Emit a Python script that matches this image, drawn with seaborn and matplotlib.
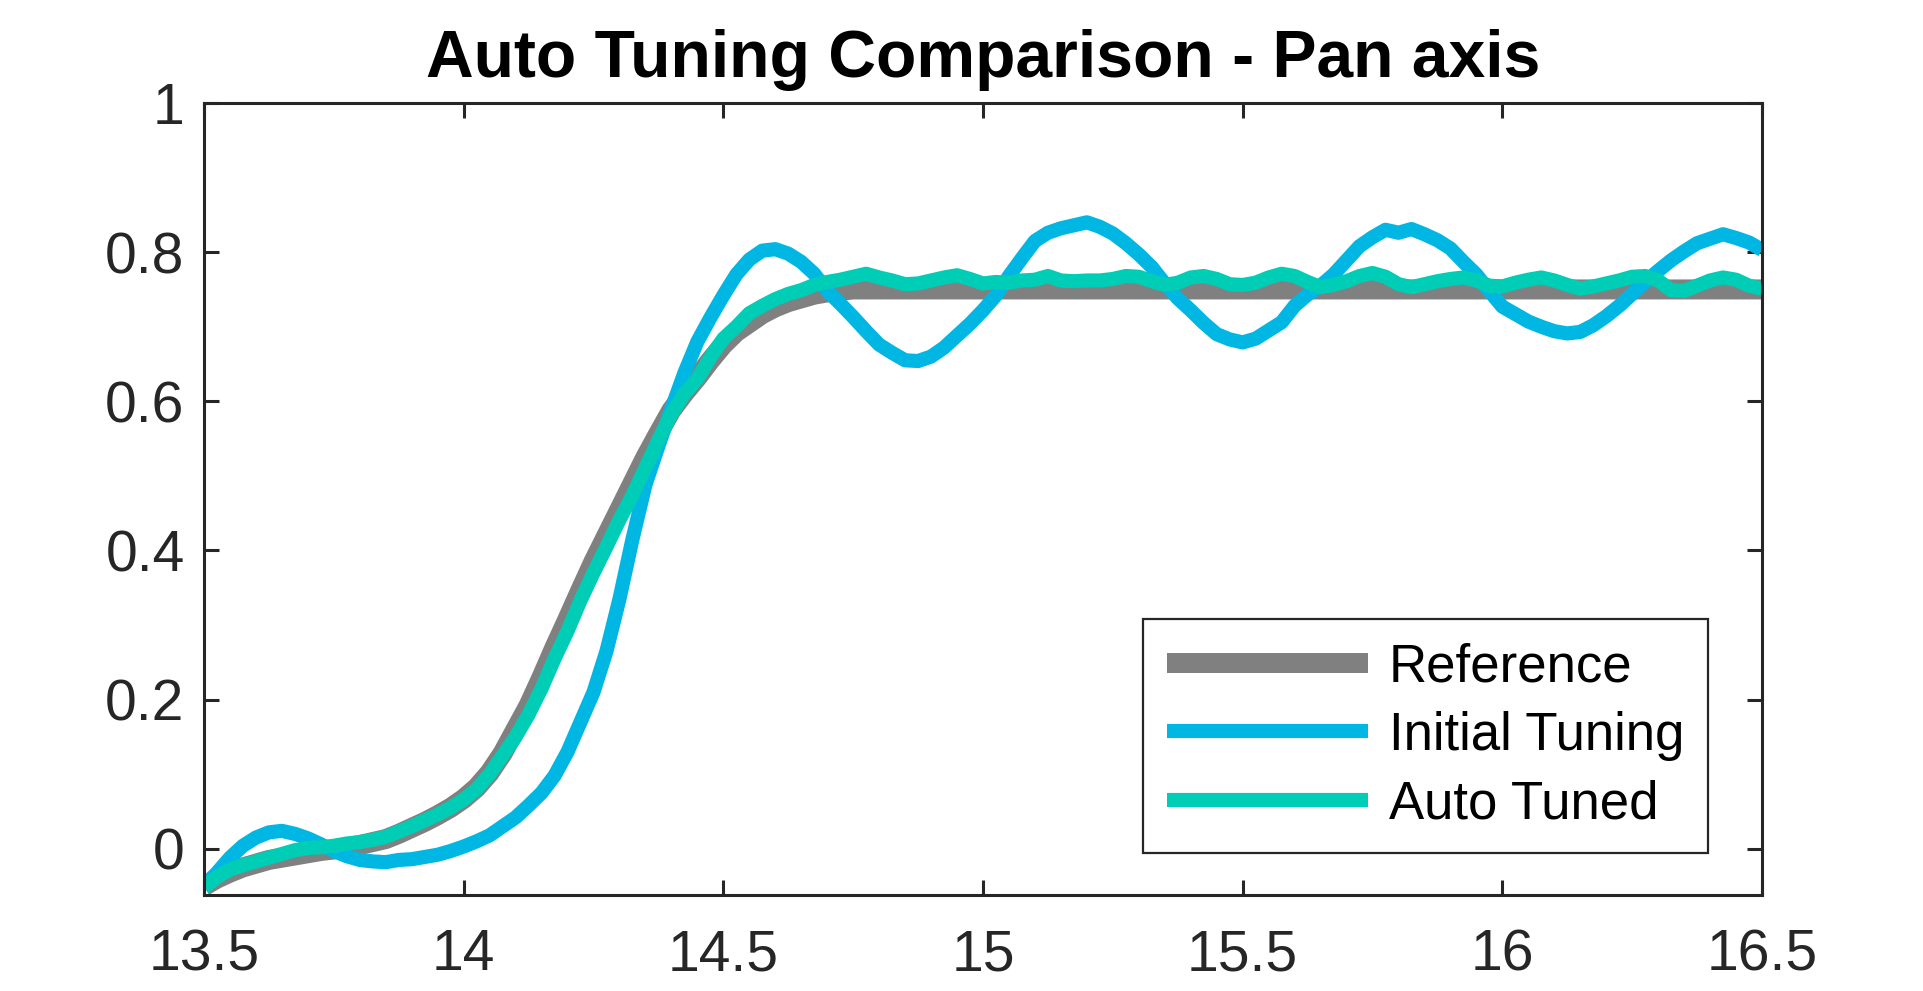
import matplotlib
matplotlib.use("Agg")
import matplotlib.pyplot as plt
import seaborn as sns
import numpy as np
import pandas as pd

sns.set_theme(style="white")
plt.rcParams['font.family'] = ['Liberation Sans', 'DejaVu Sans']

# sample times (s), one every 0.025 s
t = np.round(np.linspace(13.5, 16.5, 121), 3)

# reference trajectory (settles at 0.75 after 14.75 s)
reference = [
    -0.050, -0.040, -0.032, -0.025, -0.020, -0.015, -0.012, -0.009, -0.006, -0.003,
    -0.001, 0.002, 0.005, 0.009, 0.013, 0.020, 0.028, 0.036, 0.045, 0.055,
    0.067, 0.082, 0.102, 0.128, 0.160, 0.192, 0.230, 0.270, 0.308, 0.347,
    0.385, 0.420, 0.455, 0.490, 0.525, 0.557, 0.588, 0.611, 0.632, 0.655,
    0.676, 0.693, 0.705, 0.717, 0.726, 0.733, 0.738, 0.743, 0.746, 0.748,
    0.750, 0.750, 0.750,
] + [0.750] * 68

initial_tuning = [
    -0.050, -0.032, -0.012, 0.004, 0.015, 0.022, 0.024, 0.020, 0.014, 0.006,
    -0.003, -0.010, -0.015, -0.017, -0.018, -0.015, -0.014, -0.011, -0.008, -0.003,
    0.003, 0.010, 0.018, 0.030, 0.042, 0.058, 0.075, 0.098, 0.130, 0.170,
    0.210, 0.265, 0.335, 0.415, 0.488, 0.540, 0.590, 0.638, 0.680, 0.712,
    0.742, 0.770, 0.790, 0.802, 0.804, 0.798, 0.787, 0.771, 0.748, 0.731,
    0.713, 0.694, 0.676, 0.665, 0.655, 0.654, 0.660, 0.672, 0.688, 0.704,
    0.722, 0.742, 0.768, 0.792, 0.815, 0.826, 0.832, 0.836, 0.840, 0.834,
    0.825, 0.812, 0.797, 0.780, 0.758, 0.738, 0.722, 0.705, 0.690, 0.683,
    0.679, 0.684, 0.695, 0.706, 0.728, 0.743, 0.755, 0.770, 0.789, 0.808,
    0.820, 0.830, 0.826, 0.831, 0.824, 0.816, 0.805, 0.787, 0.770, 0.748,
    0.727, 0.717, 0.707, 0.700, 0.694, 0.691, 0.693, 0.702, 0.714, 0.728,
    0.744, 0.760, 0.775, 0.789, 0.801, 0.812, 0.818, 0.824, 0.819, 0.813,
    0.803,
]

auto_tuned = [
    -0.052, -0.038, -0.028, -0.022, -0.017, -0.012, -0.007, -0.002, 0.001, 0.002,
    0.004, 0.007, 0.009, 0.012, 0.016, 0.023, 0.030, 0.038, 0.046, 0.055,
    0.066, 0.080, 0.100, 0.125, 0.150, 0.180, 0.215, 0.255, 0.292, 0.333,
    0.370, 0.405, 0.441, 0.474, 0.511, 0.548, 0.583, 0.610, 0.630, 0.659,
    0.684, 0.700, 0.718, 0.728, 0.737, 0.744, 0.749, 0.756, 0.760, 0.763,
    0.767, 0.771, 0.766, 0.762, 0.757, 0.758, 0.762, 0.766, 0.769, 0.764,
    0.758, 0.760, 0.759, 0.762, 0.763, 0.768, 0.762, 0.761, 0.762, 0.762,
    0.764, 0.768, 0.767, 0.761, 0.756, 0.759, 0.766, 0.768, 0.764, 0.757,
    0.756, 0.759, 0.766, 0.771, 0.768, 0.760, 0.753, 0.756, 0.761, 0.768,
    0.772, 0.767, 0.757, 0.753, 0.757, 0.761, 0.764, 0.766, 0.762, 0.755,
    0.754, 0.759, 0.763, 0.766, 0.762, 0.756, 0.751, 0.754, 0.758, 0.762,
    0.767, 0.768, 0.762, 0.749, 0.748, 0.755, 0.762, 0.766, 0.763, 0.755,
    0.751,
]

x_ticks = [13.5, 14, 14.5, 15, 15.5, 16, 16.5]
x_labels = ["13.5", "14", "14.5", "15", "15.5", "16", "16.5"]
y_ticks = [0, 0.2, 0.4, 0.6, 0.8, 1]
y_labels = ["0", "0.2", "0.4", "0.6", "0.8", "1"]

df = pd.DataFrame({
    "Time": t,
    "Reference": reference,
    "Initial Tuning": initial_tuning,
    "Auto Tuned": auto_tuned,
})

axis_color = "#262626"

fig = plt.figure(figsize=(19.24, 9.91), dpi=100)
ax = fig.add_axes([204 / 1924, 96 / 991, 1558 / 1924, 792 / 991])

sns.lineplot(data=df, x="Time", y="Reference", ax=ax, color="#808080",
             linewidth=14.4, label="Reference", solid_capstyle="butt")
sns.lineplot(data=df, x="Time", y="Initial Tuning", ax=ax, color="#00B7E4",
             linewidth=10.2, label="Initial Tuning", solid_capstyle="butt")
sns.lineplot(data=df, x="Time", y="Auto Tuned", ax=ax, color="#00CDB6",
             linewidth=10.2, label="Auto Tuned", solid_capstyle="butt")

ax.set_xlim(13.5, 16.5)
ax.set_ylim(-0.062, 1)
ax.set_xticks(x_ticks)
ax.set_xticklabels(x_labels)
ax.set_yticks(y_ticks)
ax.set_yticklabels(y_labels)
ax.set_xlabel("")
ax.set_ylabel("")

for side in ax.spines.values():
    side.set_visible(True)
    side.set_color(axis_color)
    side.set_linewidth(2.2)

ax.tick_params(axis="both", which="both", direction="in", length=11, width=2.2,
               color=axis_color, labelcolor=axis_color, labelsize=41,
               top=True, right=True, bottom=True, left=True)
ax.tick_params(axis="x", pad=24)
ax.tick_params(axis="y", pad=14)

ax.set_title("Auto Tuning Comparison - Pan axis", fontsize=47.5, fontweight="bold",
             color="black", pad=19)

leg = ax.legend(loc="lower right", bbox_to_anchor=(0.9653, 0.053), borderaxespad=0,
                fontsize=38, frameon=True, fancybox=False, handlelength=3.8,
                handletextpad=0.4, labelspacing=0.35, borderpad=0.45)
leg.get_frame().set_edgecolor(axis_color)
leg.get_frame().set_linewidth(1.6)
leg.get_frame().set_alpha(1)
for txt in leg.get_texts():
    txt.set_color("black")

fig.savefig("out.png", dpi=100)
